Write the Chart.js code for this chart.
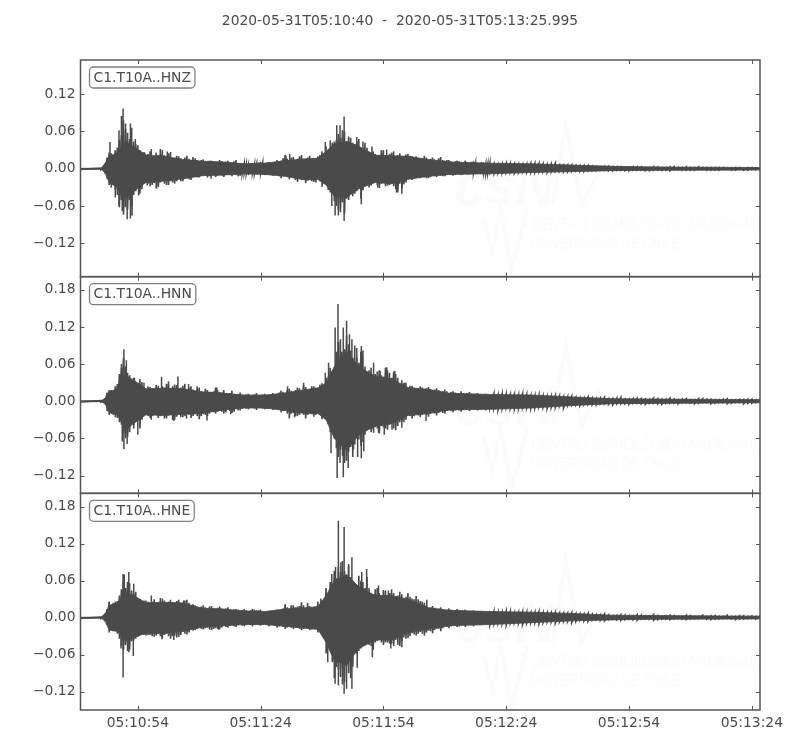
<!DOCTYPE html>
<html>
<head>
<meta charset="utf-8">
<script src="https://cdn.jsdelivr.net/npm/chart.js@4"></script>
<style>
  html, body { margin: 0; padding: 0; background: #fff; }
  canvas { display: block; }
</style>
</head>
<body>
<canvas id="myChart" width="800" height="750"></canvas>
<script>
const title = '2020-05-31T05:10:40  -  2020-05-31T05:13:25.995';
const stations = ['C1.T10A..HNZ', 'C1.T10A..HNN', 'C1.T10A..HNE'];
const xTickValues = [14, 44, 74, 104, 134, 164];
const xTickLabels = ['05:10:54', '05:11:24', '05:11:54', '05:12:24', '05:12:54', '05:13:24'];
const yTicksZ = [-0.12, -0.06, 0, 0.06, 0.12];
const yTicksNE = [-0.12, -0.06, 0, 0.06, 0.12, 0.18];

// seconds after 05:10:40
const times = [0, 5,
  6, 7, 8, 9, 10, 11, 12, 13, 14, 15, 16, 17, 18, 19, 20, 21, 22, 23, 24, 25,
  26, 27, 28, 29, 30, 31, 32, 33, 34, 35, 36, 37, 38, 39, 40, 41, 42, 43, 44, 45,
  46, 47, 48, 49, 50, 51, 52, 53, 54, 55, 56, 57, 58, 59, 60, 61, 62, 63, 64, 65,
  66, 67, 68, 69, 70, 71, 72, 73, 74, 75, 76, 77, 78, 79, 80, 81, 82, 83,
  84, 85, 86, 87, 88, 89, 90, 91, 92, 93, 94, 95, 96, 97, 98, 99, 100,
  102, 104, 106, 108, 110, 112, 114, 116, 118, 120, 122, 124, 126, 128, 130, 132, 134,
  136, 138, 140, 142, 144, 146, 148, 150, 152, 154, 156, 158, 160, 162, 164, 166];
const times2 = [
  6.5, 7.5, 8.5, 9.5, 10.5, 11.5, 12.5, 13.5, 14.5, 15.5, 16.5, 17.5, 18.5, 19.5, 20.5, 21.5, 22.5, 23.5, 24.5, 25.5,
  26.5, 27.5, 28.5, 29.5, 30.5, 31.5, 32.5, 33.5, 34.5, 35.5, 36.5, 37.5, 38.5, 39.5, 40.5, 41.5, 42.5, 43.5, 44.5, 45.5,
  46.5, 47.5, 48.5, 49.5, 50.5, 51.5, 52.5, 53.5, 54.5, 55.5, 56.5, 57.5, 58.5, 59.5, 60.5, 61.5, 62.5, 63.5, 64.5, 65.5,
  66.5, 67.5, 68.5, 69.5, 70.5, 71.5, 72.5, 73.5, 74.5, 75.5, 76.5, 77.5, 78.5, 79.5, 80.5, 81.5, 82.5, 83.5,
  84.5, 85.5, 86.5, 87.5, 88.5, 89.5, 90.5, 91.5, 92.5, 93.5, 94.5, 95.5, 96.5, 97.5, 98.5, 99.5,
  101, 103, 105, 107, 109, 111, 113, 115, 117, 119, 121, 123, 125, 127, 129, 131, 133,
  135, 137, 139, 141, 143, 145, 147, 149, 151, 153, 155, 157, 159, 161, 163, 165];
const floorTimes = [0, 5, 6, 7, 9, 11, 13, 16, 20, 25, 30, 35, 40, 45, 50, 55, 58, 60, 62, 65, 68, 72, 76, 80, 85, 90, 100, 110, 120, 130, 140, 166];

// amplitudes, in thousandths
const floorUpZ = [0.8, 0.8, 6, 20, 26, 44, 36, 22, 20, 15, 12, 11, 8, 9, 13, 16, 17, 28, 40, 44, 36, 22, 21, 20, 15, 11, 9, 8, 6, 4, 3, 2];
const floorLoZ = [-0.8, -0.8, -6, -22, -30, -46, -36, -22, -20, -16, -11, -10, -8, -9, -12, -18, -17, -26, -44, -46, -32, -22, -24, -17, -12, -9, -8, -6, -4.5, -3, -2.5, -2];
const floorUpN = [0.8, 0.8, 4, 15, 20, 42, 34, 20, 21, 20, 15, 13, 10, 10, 13, 19, 21, 30, 56, 80, 56, 40, 36, 22, 19, 13, 11, 10, 7, 4, 3.5, 2.5];
const floorLoN = [-0.8, -0.8, -4, -18, -22, -46, -36, -22, -23, -21, -19, -14, -11, -11, -15, -20, -20, -30, -60, -80, -54, -40, -36, -23, -20, -14, -13, -11, -7, -4, -3.5, -2.5];
const floorUpE = [0.8, 0.8, 5, 20, 24, 40, 36, 24, 25, 24, 15, 14, 11, 10, 14, 16, 18, 36, 60, 70, 50, 36, 36, 30, 16, 12, 10, 9, 7, 4, 3.5, 2.5];
const floorLoE = [-0.8, -0.8, -5, -20, -22, -38, -32, -25, -26, -22, -15, -13, -11, -11, -14, -17, -19, -40, -70, -76, -50, -36, -36, -24, -18, -13, -11, -8, -5, -3.5, -2.5, -2];

const upZ = [1, 1,
  8, 26, 20, 34, 54, 64, 48, 44, 38, 24, 18, 28, 17, 22, 30, 20, 27, 18, 20, 13,
  21, 14, 17, 12, 15, 10, 13, 11, 14, 10, 13, 9, 14, 9, 8, 6, 9, 7, 11, 9,
  11, 9, 14, 13, 22, 14, 19, 16, 22, 15, 21, 17, 20, 28, 36, 30, 44, 56, 62, 44,
  50, 40, 48, 32, 34, 26, 24, 18, 30, 20, 26, 19, 25, 19, 24, 20, 20, 13,
  21, 14, 18, 13, 19, 13, 14, 10, 13, 10, 13, 9, 12, 9, 11, 8, 9,
  7, 9, 8, 7, 9, 9, 7, 9, 6, 6, 5, 5, 3, 4, 3, 3, 2,
  3, 2, 3, 2, 3, 2, 3, 2, 2, 2, 2, 1, 2, 1, 2, 2];
const loZ = [-1, -1,
  -8, -26, -22, -42, -50, -62, -50, -42, -28, -33, -21, -28, -23, -29, -19, -26, -20, -24, -17, -20,
  -15, -18, -12, -14, -9, -14, -11, -13, -9, -13, -9, -12, -10, -11, -7, -10, -7, -9, -7, -10,
  -8, -11, -9, -15, -12, -17, -15, -21, -18, -23, -17, -21, -16, -29, -26, -38, -52, -66, -54, -48,
  -36, -40, -32, -35, -23, -27, -21, -31, -22, -27, -24, -33, -24, -25, -14, -18, -12, -15,
  -14, -15, -11, -13, -11, -12, -9, -11, -8, -10, -8, -9, -7, -8, -7, -8, -6,
  -7, -6, -7, -5, -6, -5, -6, -4, -5, -4, -4, -3, -3, -2, -3, -2, -3,
  -2, -3, -2, -2, -3, -1, -2, -2, -1, -2, -2, -1, -2, -2, -1, -2];
const upZ2 = [
  18, 25, 30, 46, 78, 58, 66, 40, 30, 27, 24, 20, 26, 24, 22, 25, 18, 21, 17, 18,
  16, 19, 14, 14, 11, 13, 12, 11, 12, 11, 10, 12, 9, 8, 8, 9, 8, 10, 9, 10,
  10, 11, 12, 17, 16, 18, 14, 20, 16, 18, 16, 17, 22, 20, 26, 42, 46, 50, 60, 52,
  42, 44, 34, 42, 26, 28, 22, 30, 22, 24, 28, 22, 20, 23, 21, 18, 17, 15,
  18, 16, 15, 17, 14, 14, 12, 12, 12, 10, 10, 11, 9, 9, 10, 8,
  8, 8, 9, 7, 8, 9, 8, 8, 6, 6, 5, 5, 4, 3, 4, 3, 2,
  3, 3, 2, 3, 2, 3, 2, 2, 3, 2, 2, 2, 1, 2, 2, 1];
const loZ2 = [
  -16, -30, -34, -62, -74, -66, -60, -36, -40, -24, -24, -26, -30, -22, -24, -26, -22, -20, -20, -16,
  -17, -13, -14, -11, -11, -12, -10, -11, -11, -9, -10, -9, -12, -8, -8, -8, -8, -8, -9, -9,
  -10, -9, -12, -12, -13, -13, -18, -16, -17, -19, -20, -22, -20, -24, -34, -30, -60, -70, -72, -50,
  -44, -36, -48, -28, -30, -22, -26, -24, -28, -26, -28, -38, -32, -22, -16, -15, -14, -13,
  -15, -13, -12, -11, -12, -10, -10, -10, -9, -9, -9, -8, -8, -8, -7, -7,
  -8, -7, -6, -6, -6, -6, -5, -5, -4, -5, -3, -4, -3, -2, -3, -2, -3,
  -2, -2, -3, -2, -2, -1, -2, -2, -1, -2, -2, -1, -2, -1, -2, -1];
const spikeTimesZ = [7.2, 9.4, 10.0, 10.4, 11, 12.2, 13.4, 15.7, 17.3, 19.5, 21.2, 59.8, 61, 62.6, 63.4, 64.4, 67.5, 69, 71.2, 74.8, 51.1, 50.2,
  8.5, 9.4, 10.2, 11.4, 12.2, 12.6, 14.2, 16.3, 18.6, 31.9, 61.4, 62.2, 63, 64.4, 68.6, 72.6, 77.2, 78.5];
const spikeValsZ = [43, 62, 85, 97, 73, 73, 48, 26, 32, 32, 28, 43, 46, 70, 70, 84, 51, 44, 36, 31, 24, 21,
  -46, -60, -68, -81, -80, -75, -43, -27, -32, -16, -60, -75, -75, -84, -57, -30, -38, -40];

const upN = [1, 1,
  4, 18, 17, 28, 54, 56, 42, 38, 28, 31, 18, 23, 17, 25, 24, 28, 21, 27, 20, 25,
  17, 24, 15, 22, 14, 18, 15, 22, 15, 18, 12, 17, 11, 14, 8, 12, 9, 13, 9, 12,
  9, 13, 12, 17, 14, 20, 15, 22, 16, 23, 19, 24, 22, 29, 38, 54, 52, 96, 74, 106,
  82, 90, 62, 82, 44, 54, 44, 50, 40, 50, 38, 44, 26, 29, 21, 25, 19, 24,
  20, 23, 18, 21, 16, 19, 13, 16, 12, 16, 11, 15, 11, 13, 10, 12, 10,
  10, 12, 11, 12, 9, 10, 8, 9, 7, 8, 5, 7, 4, 6, 4, 6, 3,
  5, 3, 5, 3, 5, 2, 4, 2, 4, 3, 2, 4, 2, 3, 3, 3];
const loN = [-1, -1,
  -5, -22, -22, -27, -38, -60, -50, -44, -26, -30, -19, -27, -20, -27, -23, -28, -22, -30, -21, -26,
  -20, -27, -21, -29, -21, -24, -17, -20, -15, -20, -13, -19, -12, -15, -10, -13, -9, -14, -9, -13,
  -9, -14, -11, -18, -15, -28, -19, -24, -19, -28, -19, -25, -19, -29, -28, -50, -60, -90, -88, -96,
  -74, -70, -62, -66, -38, -50, -42, -52, -42, -46, -35, -47, -34, -34, -21, -28, -21, -26,
  -19, -25, -18, -23, -16, -20, -15, -18, -13, -17, -13, -16, -12, -15, -11, -15, -11,
  -14, -10, -13, -10, -12, -9, -12, -10, -11, -6, -7, -5, -6, -4, -6, -4, -5,
  -3, -5, -3, -5, -3, -4, -2, -4, -2, -4, -2, -4, -2, -4, -3, -3];
const upN2 = [
  14, 18, 24, 44, 70, 46, 34, 30, 36, 20, 24, 20, 26, 18, 22, 32, 24, 26, 22, 28,
  22, 19, 20, 16, 20, 15, 16, 18, 14, 13, 13, 10, 11, 10, 11, 8, 11, 10, 11, 10,
  11, 10, 14, 15, 19, 17, 18, 21, 26, 18, 24, 22, 27, 25, 40, 48, 80, 100, 84, 92,
  70, 72, 80, 56, 50, 44, 48, 42, 54, 46, 48, 38, 34, 30, 25, 22, 21, 22,
  21, 20, 19, 18, 16, 16, 15, 14, 13, 13, 13, 12, 12, 11, 11, 11,
  12, 12, 11, 10, 11, 9, 9, 8, 8, 7, 6, 5, 5, 5, 4, 5, 3,
  4, 4, 3, 4, 3, 3, 3, 2, 4, 3, 2, 3, 2, 3, 3, 2];
const loN2 = [
  -16, -20, -26, -34, -52, -58, -36, -30, -44, -22, -24, -24, -22, -24, -28, -23, -30, -25, -26, -24,
  -22, -24, -24, -24, -22, -20, -18, -17, -17, -18, -16, -17, -15, -12, -12, -11, -12, -10, -12, -12,
  -11, -12, -13, -16, -20, -20, -24, -22, -22, -22, -21, -22, -22, -24, -36, -40, -76, -78, -100, -82,
  -90, -60, -72, -54, -44, -46, -44, -40, -44, -38, -44, -40, -32, -30, -24, -24, -23, -22,
  -22, -20, -20, -19, -19, -16, -16, -15, -15, -14, -14, -13, -13, -13, -12, -12,
  -12, -12, -11, -12, -11, -11, -10, -10, -8, -7, -6, -5, -6, -4, -5, -4, -4,
  -3, -4, -3, -4, -3, -3, -2, -3, -3, -2, -3, -2, -3, -2, -3, -2];
const spikeTimesN = [9.8, 10, 10.6, 11.2, 13.2, 15.5, 19.8, 21.5, 23.8, 26.4, 28.5, 33.3, 50.6, 54.5, 59.8, 60.6, 62.2, 62.9, 63.8, 64.2, 65, 65.7, 66.3, 67.5, 68.6, 71.6, 73.2, 74.8, 76.8, 79.1,
  10.2, 10.6, 11.4, 14, 17.3, 22.8, 25.9, 30.9, 36.7, 52.3, 61.2, 62.7, 63.4, 64.2, 65.4, 66.7, 67.7, 68.6, 69.2, 71.6, 72.8, 74.2, 76.1, 78.5, 84.4];
const spikeValsN = [43, 60, 84, 66, 38, 30, 39, 28, 40, 28, 24, 22, 24, 30, 46, 62, 119, 157, 80, 119, 130, 108, 100, 86, 89, 62, 49, 55, 49, 30,
  -65, -77, -69, -54, -30, -32, -28, -31, -21, -26, -84, -124, -100, -123, -108, -78, -90, -92, -81, -51, -51, -54, -46, -43, -32];

const upE = [1, 1,
  6, 26, 24, 27, 46, 48, 56, 40, 27, 24, 28, 24, 30, 23, 31, 22, 29, 24, 29, 24,
  29, 17, 20, 15, 20, 15, 19, 15, 18, 14, 17, 12, 14, 11, 14, 11, 14, 12, 13, 9,
  11, 8, 13, 13, 22, 15, 20, 18, 25, 16, 19, 16, 26, 28, 48, 58, 76, 82, 92, 68,
  66, 48, 68, 58, 66, 34, 46, 40, 45, 36, 46, 34, 42, 32, 40, 31, 35, 27,
  24, 16, 19, 14, 17, 12, 15, 11, 14, 11, 13, 10, 12, 10, 11, 9, 11,
  9, 11, 8, 10, 8, 10, 8, 9, 7, 8, 6, 7, 5, 6, 3, 5, 3,
  5, 3, 5, 2, 4, 2, 4, 2, 4, 3, 2, 4, 2, 3, 3, 3];
const loE = [-1, -1,
  -6, -24, -22, -26, -46, -44, -52, -37, -31, -24, -29, -28, -31, -25, -33, -26, -34, -29, -31, -23,
  -27, -18, -20, -15, -19, -16, -20, -17, -18, -13, -16, -11, -15, -10, -14, -10, -14, -9, -13, -9,
  -14, -10, -16, -13, -18, -14, -18, -16, -20, -16, -20, -17, -24, -24, -58, -54, -98, -84, -108, -78,
  -98, -54, -54, -36, -42, -46, -40, -32, -44, -40, -42, -36, -46, -32, -33, -25, -29, -23,
  -29, -21, -25, -18, -22, -14, -17, -12, -15, -11, -15, -10, -14, -10, -12, -10, -12,
  -9, -12, -8, -11, -8, -10, -7, -9, -6, -8, -4, -6, -3, -5, -2, -4, -2,
  -4, -2, -4, -2, -3, -1, -3, -2, -1, -3, -2, -1, -3, -2, -1, -2];
const upE2 = [
  14, 20, 26, 36, 60, 58, 44, 42, 30, 28, 26, 26, 25, 26, 28, 26, 25, 27, 24, 28,
  24, 22, 17, 18, 17, 18, 16, 16, 15, 15, 13, 13, 13, 12, 12, 12, 13, 12, 10, 10,
  9, 11, 12, 15, 17, 20, 17, 19, 20, 24, 16, 18, 20, 22, 34, 54, 64, 74, 76, 84,
  60, 52, 60, 48, 48, 38, 48, 36, 44, 40, 40, 36, 38, 34, 34, 30, 30, 26,
  20, 17, 16, 15, 14, 13, 13, 12, 12, 11, 11, 10, 10, 10, 9, 9,
  10, 9, 10, 9, 9, 9, 8, 8, 7, 7, 6, 6, 5, 5, 4, 4, 4,
  3, 4, 3, 3, 3, 3, 2, 3, 2, 2, 3, 2, 2, 3, 2, 2];
const loE2 = [
  -12, -20, -22, -34, -52, -54, -38, -34, -28, -28, -28, -30, -29, -30, -28, -30, -30, -32, -28, -26,
  -24, -21, -18, -18, -17, -19, -18, -18, -16, -15, -13, -14, -12, -13, -12, -12, -12, -12, -11, -12,
  -12, -13, -14, -15, -16, -16, -16, -18, -18, -18, -19, -18, -20, -22, -40, -72, -80, -96, -104, -90,
  -80, -58, -50, -42, -44, -52, -38, -40, -40, -42, -46, -44, -38, -34, -30, -27, -26, -26,
  -24, -22, -20, -18, -17, -15, -14, -13, -14, -12, -12, -12, -11, -12, -11, -11,
  -10, -10, -9, -9, -9, -8, -8, -7, -7, -6, -6, -5, -4, -4, -3, -3, -3,
  -3, -2, -2, -3, -2, -2, -2, -2, -1, -2, -2, -1, -2, -2, -1, -2];
const spikeTimesE = [10.4, 10.7, 11.8, 13, 17.3, 19.5, 25.2, 58.7, 61.4, 62.3, 63, 63.6, 64.4, 65.5, 66.3, 68.7, 69.9, 72.8, 75.2, 84.6,
  9.9, 10.4, 11.8, 12.9, 19.9, 22.8, 33.8, 60.4, 62.2, 63, 64.4, 65, 66.3, 67.6, 71.3, 75.8, 78.5];
const spikeValsE = [71, 70, 74, 55, 36, 32, 28, 31, 71, 82, 157, 90, 147, 87, 98, 74, 79, 52, 44, 29,
  -50, -97, -56, -62, -35, -36, -20, -72, -107, -110, -123, -115, -115, -81, -64, -50, -48];

const inkColor = '#4a4a4a';
const textColor = '#4b4b4b';
const frameColor = '#555555';
const fontFamily = '"DejaVu Sans", sans-serif';
const fontSize = 13.89;

function floorLine(values) {
  return floorTimes.map((t, i) => ({ x: t, y: values[i] / 1000 }));
}

// the trace swings from the top to the bottom of every sample
function zigzag(up, lo, up2, lo2) {
  const rows = [
    ...times.map((t, i) => [t, up[i], lo[i]]),
    ...times2.map((t, i) => [t, up2[i], lo2[i]])
  ].sort((a, b) => a[0] - b[0]);
  return rows.flatMap((r) => [{ x: r[0], y: r[1] / 1000 }, { x: r[0], y: r[2] / 1000 }]);
}

// each spike goes out from zero and back, so the line stays inside the solid part
function spikes(ts, vals) {
  return ts.flatMap((t, i) => [{ x: t, y: 0 }, { x: t, y: vals[i] / 1000 }, { x: t, y: 0 }]);
}

function traceDatasets(axis, floorUp, floorLo, trace, spikeLine) {
  const line = { yAxisID: axis, xAxisID: 'x', pointRadius: 0, borderColor: inkColor, borderWidth: 0.8, tension: 0 };
  return [
    { ...line, data: floorLine(floorUp), fill: '+1', backgroundColor: inkColor },
    { ...line, data: floorLine(floorLo), fill: false },
    { ...line, data: trace, fill: false, borderWidth: 1.6 },
    { ...line, data: spikeLine, fill: false, borderWidth: 1.5 }
  ];
}

function yScale(ticks, min, max, weight) {
  return {
    type: 'linear',
    position: 'left',
    stack: 'traces',
    stackWeight: 1,
    weight: weight,
    min: min,
    max: max,
    grid: { display: false, drawTicks: false },
    border: { display: false },
    afterFit: (scale) => { scale.width = 80.5; },
    afterBuildTicks: (scale) => { scale.ticks = ticks.map((v) => ({ value: v })); },
    ticks: {
      padding: 5,
      color: textColor,
      font: { family: fontFamily, size: fontSize },
      callback: (v) => v.toFixed(2).replace('-', '\u2212')
    }
  };
}

const watermark = {
  id: 'watermark',
  beforeDatasetsDraw(chart) {
    const ctx = chart.ctx;
    const left = chart.chartArea.left;
    ['y1', 'y2', 'y3'].forEach((id, i) => {
      const top = chart.scales[id].top + [0, 3, 4][i];
      const px = (x) => left + x;
      ctx.save();
      ctx.fillStyle = '#fbfbfb';
      ctx.strokeStyle = '#fbfbfb';
      ctx.lineWidth = 4;
      ctx.textBaseline = 'alphabetic';
      ctx.textAlign = 'left';
      ctx.font = 'italic bold 58px "Liberation Sans", sans-serif';
      ctx.fillText('csN', px(374), top + 145, 100);
      ctx.beginPath();
      ctx.moveTo(px(472), top + 145);
      ctx.lineTo(px(485), top + 65);
      ctx.lineTo(px(501), top + 145);
      ctx.lineTo(px(519), top + 110);
      ctx.stroke();
      ctx.beginPath();
      ctx.moveTo(px(403), top + 158);
      ctx.lineTo(px(412), top + 192);
      ctx.lineTo(px(420), top + 148);
      ctx.lineTo(px(431), top + 210);
      ctx.lineTo(px(447), top + 148);
      ctx.stroke();
      ctx.font = 'italic 17px "Liberation Sans", sans-serif';
      ctx.fillText('CENTRO SISMOL\u00d3GICO NACIONAL', px(451), top + 170, 225);
      ctx.fillText('UNIVERSIDAD DE CHILE', px(449), top + 189, 151);
      ctx.restore();
    });
  }
};

const frames = {
  id: 'frames',
  afterDatasetsDraw(chart) {
    const ctx = chart.ctx;
    const { left, right } = chart.chartArea;
    const x = chart.scales.x;
    ctx.save();
    ctx.font = fontSize + 'px ' + fontFamily;
    ctx.fillStyle = textColor;
    ctx.textAlign = 'center';
    ctx.textBaseline = 'middle';
    ctx.fillText(title, chart.width / 2, 21);
    ctx.restore();
    ['y1', 'y2', 'y3'].forEach((id, i) => {
      const s = chart.scales[id];
      ctx.save();
      ctx.strokeStyle = frameColor;
      ctx.lineWidth = 1;
      ctx.beginPath();
      xTickValues.forEach((v) => {
        const px = Math.round(x.getPixelForValue(v)) + 0.5;
        ctx.moveTo(px, s.top); ctx.lineTo(px, s.top + 4);
        ctx.moveTo(px, s.bottom); ctx.lineTo(px, s.bottom - 4);
      });
      s.ticks.forEach((t) => {
        const py = Math.round(s.getPixelForValue(t.value)) + 0.5;
        ctx.moveTo(left, py); ctx.lineTo(left + 4, py);
        ctx.moveTo(right, py); ctx.lineTo(right - 4, py);
      });
      ctx.stroke();
      ctx.lineWidth = 1.5;
      ctx.strokeRect(left, s.top, right - left, s.bottom - s.top);

      // station label
      ctx.font = fontSize + 'px ' + fontFamily;
      const w = ctx.measureText(stations[i]).width;
      ctx.fillStyle = '#fff';
      ctx.strokeStyle = '#808080';
      ctx.lineWidth = 1.3;
      ctx.beginPath();
      ctx.roundRect(left + 9, s.top + 7, w + 8, 21, 4);
      ctx.fill();
      ctx.stroke();
      ctx.fillStyle = textColor;
      ctx.textAlign = 'left';
      ctx.textBaseline = 'middle';
      ctx.fillText(stations[i], left + 13, s.top + 18);
      ctx.restore();
    });
  }
};

new Chart(document.getElementById('myChart'), {
  type: 'line',
  data: {
    datasets: [
      ...traceDatasets('y1', floorUpZ, floorLoZ, zigzag(upZ, loZ, upZ2, loZ2), spikes(spikeTimesZ, spikeValsZ)),
      ...traceDatasets('y2', floorUpN, floorLoN, zigzag(upN, loN, upN2, loN2), spikes(spikeTimesN, spikeValsN)),
      ...traceDatasets('y3', floorUpE, floorLoE, zigzag(upE, loE, upE2, loE2), spikes(spikeTimesE, spikeValsE))
    ]
  },
  plugins: [watermark, frames],
  options: {
    responsive: false,
    animation: false,
    layout: { padding: { top: 60, right: 40 } },
    plugins: {
      legend: { display: false },
      tooltip: { enabled: false }
    },
    scales: {
      x: {
        type: 'linear',
        position: 'bottom',
        min: 0,
        max: 165.995,
        grid: { display: false, drawTicks: false },
        border: { display: false },
        afterFit: (scale) => { scale.height = 40; },
        afterBuildTicks: (scale) => { scale.ticks = xTickValues.map((v) => ({ value: v })); },
        ticks: {
          autoSkip: false,
          maxRotation: 0,
          padding: 5,
          color: textColor,
          font: { family: fontFamily, size: fontSize },
          callback: (v) => xTickLabels[xTickValues.indexOf(v)]
        }
      },
      y1: yScale(yTicksZ, -0.1735, 0.175, 3),
      y2: yScale(yTicksNE, -0.1488, 0.2012, 2),
      y3: yScale(yTicksNE, -0.1495, 0.2015, 1)
    }
  }
});
</script>
</body>
</html>
